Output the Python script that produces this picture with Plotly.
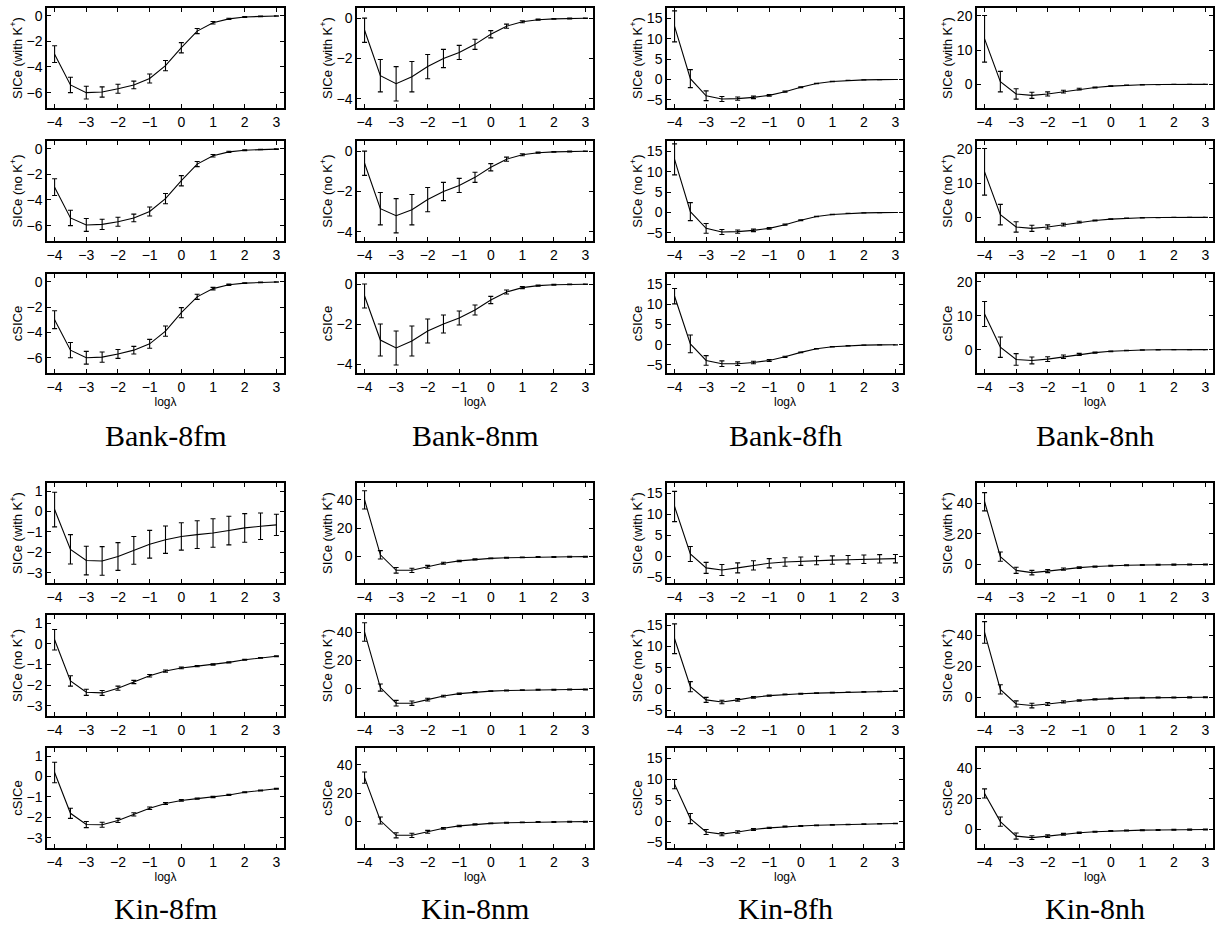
import plotly.graph_objects as go

LOG_LAMBDA = [-4, -3.5, -3, -2.5, -2, -1.5, -1, -0.5, 0, 0.5, 1, 1.5, 2, 2.5, 3]

DATASETS = ["Bank-8fm", "Bank-8nm", "Bank-8fh", "Bank-8nh", "Kin-8fm", "Kin-8nm", "Kin-8fh", "Kin-8nh"]
ROW_LABELS = ["SICe (with K<sup>+</sup>)", "SICe (no K<sup>+</sup>)", "cSICe"]

# ---- Bank-8fm
bank8fm_with = [-3.0, -5.4, -6.0, -5.95, -5.7, -5.4, -4.9, -3.9, -2.5, -1.2, -0.55, -0.25, -0.1, -0.05, -0.02]
bank8fm_with_err = [0.65, 0.6, 0.5, 0.4, 0.35, 0.3, 0.35, 0.4, 0.4, 0.2, 0.1, 0.05, 0.03, 0.02, 0.02]
bank8fm_no = [-3.0, -5.4, -5.95, -5.9, -5.7, -5.4, -4.9, -3.9, -2.5, -1.2, -0.55, -0.25, -0.12, -0.06, -0.03]
bank8fm_no_err = [0.65, 0.6, 0.5, 0.4, 0.35, 0.3, 0.35, 0.4, 0.4, 0.2, 0.1, 0.05, 0.03, 0.02, 0.02]
bank8fm_c = [-3.0, -5.4, -6.0, -5.95, -5.7, -5.4, -4.9, -3.9, -2.45, -1.2, -0.55, -0.25, -0.12, -0.06, -0.03]
bank8fm_c_err = [0.7, 0.6, 0.5, 0.4, 0.35, 0.3, 0.35, 0.4, 0.4, 0.2, 0.1, 0.05, 0.03, 0.02, 0.02]

# ---- Bank-8nm
bank8nm_with = [-0.6, -2.85, -3.25, -2.9, -2.4, -2.0, -1.7, -1.3, -0.8, -0.4, -0.18, -0.08, -0.04, -0.02, -0.01]
bank8nm_with_err = [0.6, 0.8, 0.85, 0.75, 0.6, 0.45, 0.35, 0.25, 0.18, 0.1, 0.05, 0.03, 0.02, 0.02, 0.01]
bank8nm_no = [-0.6, -2.85, -3.2, -2.9, -2.4, -2.0, -1.7, -1.3, -0.8, -0.4, -0.18, -0.08, -0.04, -0.02, -0.01]
bank8nm_no_err = [0.6, 0.8, 0.85, 0.75, 0.6, 0.45, 0.35, 0.25, 0.18, 0.1, 0.05, 0.03, 0.02, 0.02, 0.01]
bank8nm_c = [-0.6, -2.8, -3.2, -2.85, -2.35, -2.0, -1.7, -1.3, -0.8, -0.4, -0.18, -0.08, -0.04, -0.02, -0.01]
bank8nm_c_err = [0.6, 0.8, 0.85, 0.75, 0.6, 0.45, 0.35, 0.25, 0.18, 0.1, 0.05, 0.03, 0.02, 0.02, 0.01]

# ---- Bank-8fh
bank8fh_with = [13.0, 0.2, -4.0, -4.8, -4.7, -4.4, -3.9, -3.0, -1.9, -1.0, -0.5, -0.25, -0.1, -0.05, -0.02]
bank8fh_with_err = [3.8, 2.2, 1.2, 0.6, 0.4, 0.3, 0.2, 0.15, 0.1, 0.07, 0.05, 0.03, 0.02, 0.02, 0.01]
bank8fh_no = [13.0, 0.2, -3.9, -4.8, -4.7, -4.4, -3.9, -3.0, -1.9, -1.0, -0.5, -0.25, -0.1, -0.05, -0.02]
bank8fh_no_err = [3.8, 2.2, 1.2, 0.6, 0.4, 0.3, 0.2, 0.15, 0.1, 0.07, 0.05, 0.03, 0.02, 0.02, 0.01]
bank8fh_c = [12.0, 0.2, -3.9, -4.7, -4.7, -4.4, -3.9, -3.0, -1.9, -1.0, -0.5, -0.25, -0.1, -0.05, -0.02]
bank8fh_c_err = [1.9, 2.2, 1.2, 0.7, 0.45, 0.3, 0.25, 0.15, 0.1, 0.07, 0.05, 0.03, 0.02, 0.02, 0.01]

# ---- Bank-8nh
bank8nh_with = [13.3, 0.8, -2.8, -3.2, -2.8, -2.1, -1.4, -0.9, -0.5, -0.25, -0.1, -0.05, -0.03, -0.02, -0.01]
bank8nh_with_err = [6.8, 3.0, 1.5, 0.9, 0.6, 0.4, 0.25, 0.15, 0.1, 0.07, 0.05, 0.03, 0.02, 0.02, 0.01]
bank8nh_no = [13.3, 0.8, -2.8, -3.2, -2.8, -2.1, -1.4, -0.9, -0.5, -0.25, -0.1, -0.05, -0.03, -0.02, -0.01]
bank8nh_no_err = [6.8, 3.0, 1.5, 0.9, 0.6, 0.4, 0.25, 0.15, 0.1, 0.07, 0.05, 0.03, 0.02, 0.02, 0.01]
bank8nh_c = [10.5, 0.7, -2.9, -3.2, -2.8, -2.1, -1.4, -0.9, -0.5, -0.25, -0.1, -0.05, -0.03, -0.02, -0.01]
bank8nh_c_err = [3.7, 3.0, 1.7, 1.0, 0.7, 0.5, 0.3, 0.15, 0.1, 0.07, 0.05, 0.03, 0.02, 0.02, 0.01]

# ---- Kin-8fm
kin8fm_with = [0.1, -1.85, -2.4, -2.42, -2.2, -1.9, -1.6, -1.38, -1.22, -1.13, -1.05, -0.93, -0.8, -0.72, -0.65]
kin8fm_with_err = [0.85, 0.72, 0.7, 0.7, 0.68, 0.68, 0.68, 0.67, 0.67, 0.68, 0.7, 0.7, 0.7, 0.65, 0.52]
kin8fm_no = [0.2, -1.8, -2.35, -2.38, -2.15, -1.85, -1.55, -1.32, -1.17, -1.08, -1.0, -0.9, -0.77, -0.68, -0.6]
kin8fm_no_err = [0.5, 0.25, 0.15, 0.12, 0.1, 0.08, 0.06, 0.05, 0.04, 0.03, 0.03, 0.03, 0.02, 0.02, 0.02]
kin8fm_c = [0.2, -1.8, -2.35, -2.36, -2.15, -1.85, -1.55, -1.32, -1.17, -1.08, -1.0, -0.9, -0.77, -0.68, -0.6]
kin8fm_c_err = [0.5, 0.25, 0.15, 0.12, 0.1, 0.08, 0.06, 0.05, 0.04, 0.03, 0.03, 0.03, 0.02, 0.02, 0.02]

# ---- Kin-8nm
kin8nm_with = [40.0, 1.0, -10.0, -10.0, -7.5, -5.0, -3.3, -2.3, -1.5, -1.1, -0.8, -0.6, -0.5, -0.4, -0.3]
kin8nm_with_err = [6.5, 3.0, 2.0, 1.5, 1.0, 0.7, 0.5, 0.4, 0.3, 0.3, 0.3, 0.3, 0.3, 0.3, 0.3]
kin8nm_no = [40.0, 1.0, -10.0, -10.0, -7.5, -5.0, -3.3, -2.3, -1.5, -1.1, -0.8, -0.6, -0.5, -0.4, -0.3]
kin8nm_no_err = [6.5, 2.5, 2.0, 1.5, 1.0, 0.6, 0.5, 0.4, 0.3, 0.3, 0.3, 0.3, 0.3, 0.3, 0.3]
kin8nm_c = [31.0, 0.5, -10.0, -10.0, -7.5, -5.0, -3.3, -2.3, -1.5, -1.1, -0.8, -0.6, -0.5, -0.4, -0.3]
kin8nm_c_err = [4.0, 2.5, 1.8, 1.5, 1.0, 0.6, 0.5, 0.4, 0.3, 0.3, 0.3, 0.3, 0.3, 0.3, 0.3]

# ---- Kin-8fh
kin8fh_with = [11.8, 0.5, -2.8, -3.3, -2.8, -2.2, -1.7, -1.4, -1.2, -1.05, -0.95, -0.85, -0.75, -0.65, -0.6]
kin8fh_with_err = [3.6, 1.8, 1.3, 1.3, 1.2, 1.1, 1.1, 1.0, 1.0, 1.0, 1.0, 1.0, 1.0, 1.0, 1.0]
kin8fh_no = [11.8, 0.5, -2.6, -3.1, -2.6, -2.0, -1.6, -1.3, -1.15, -1.0, -0.9, -0.8, -0.72, -0.63, -0.58]
kin8fh_no_err = [3.5, 1.2, 0.6, 0.4, 0.3, 0.2, 0.15, 0.1, 0.1, 0.08, 0.08, 0.06, 0.06, 0.05, 0.05]
kin8fh_c = [8.8, 0.6, -2.6, -3.1, -2.6, -2.0, -1.6, -1.3, -1.15, -1.0, -0.9, -0.8, -0.72, -0.63, -0.58]
kin8fh_c_err = [1.1, 1.2, 0.6, 0.4, 0.3, 0.2, 0.15, 0.1, 0.1, 0.08, 0.08, 0.06, 0.06, 0.05, 0.05]

# ---- Kin-8nh
kin8nh_with = [41.0, 5.0, -4.0, -5.5, -4.5, -3.2, -2.2, -1.5, -1.0, -0.7, -0.5, -0.35, -0.25, -0.2, -0.15]
kin8nh_with_err = [6.0, 3.0, 2.0, 1.5, 1.0, 0.7, 0.5, 0.4, 0.3, 0.3, 0.3, 0.3, 0.3, 0.3, 0.3]
kin8nh_no = [42.0, 5.0, -4.5, -5.5, -4.5, -3.2, -2.2, -1.5, -1.0, -0.7, -0.5, -0.35, -0.25, -0.2, -0.15]
kin8nh_no_err = [7.0, 3.0, 2.0, 1.5, 1.0, 0.7, 0.5, 0.4, 0.3, 0.3, 0.3, 0.3, 0.3, 0.3, 0.3]
kin8nh_c = [23.5, 5.0, -4.5, -5.5, -4.5, -3.3, -2.3, -1.6, -1.1, -0.8, -0.6, -0.45, -0.35, -0.25, -0.2]
kin8nh_c_err = [3.0, 3.0, 2.0, 1.2, 0.8, 0.6, 0.4, 0.3, 0.3, 0.3, 0.3, 0.3, 0.3, 0.3, 0.3]

SERIES = {
    "Bank-8fm": [(bank8fm_with, bank8fm_with_err), (bank8fm_no, bank8fm_no_err), (bank8fm_c, bank8fm_c_err)],
    "Bank-8nm": [(bank8nm_with, bank8nm_with_err), (bank8nm_no, bank8nm_no_err), (bank8nm_c, bank8nm_c_err)],
    "Bank-8fh": [(bank8fh_with, bank8fh_with_err), (bank8fh_no, bank8fh_no_err), (bank8fh_c, bank8fh_c_err)],
    "Bank-8nh": [(bank8nh_with, bank8nh_with_err), (bank8nh_no, bank8nh_no_err), (bank8nh_c, bank8nh_c_err)],
    "Kin-8fm": [(kin8fm_with, kin8fm_with_err), (kin8fm_no, kin8fm_no_err), (kin8fm_c, kin8fm_c_err)],
    "Kin-8nm": [(kin8nm_with, kin8nm_with_err), (kin8nm_no, kin8nm_no_err), (kin8nm_c, kin8nm_c_err)],
    "Kin-8fh": [(kin8fh_with, kin8fh_with_err), (kin8fh_no, kin8fh_no_err), (kin8fh_c, kin8fh_c_err)],
    "Kin-8nh": [(kin8nh_with, kin8nh_with_err), (kin8nh_no, kin8nh_no_err), (kin8nh_c, kin8nh_c_err)],
}

# axis settings per dataset
Y_RANGES = {
    "Bank-8fm": [-7.2, 0.6], "Bank-8nm": [-4.45, 0.5], "Bank-8fh": [-7.0, 17.5], "Bank-8nh": [-6.9, 22.3],
    "Kin-8fm": [-3.5, 1.4], "Kin-8nm": [-19.0, 52.0], "Kin-8fh": [-6.4, 17.4], "Kin-8nh": [-12.3, 53.3],
}
Y_DTICK = {
    "Bank-8fm": 2, "Bank-8nm": 2, "Bank-8fh": 5, "Bank-8nh": 10,
    "Kin-8fm": 1, "Kin-8nm": 20, "Kin-8fh": 5, "Kin-8nh": 20,
}

# the page body margin is removed by a post script, so the figure fills the window
W, H = 1216, 925
COL_X = [(47, 284), (357, 593), (667, 903), (977, 1213)]
BLOCK_ROWS = [[(8, 108), (141, 241), (274, 373)], [(483, 583), (615, 716), (748, 848)]]
TITLE_Y = [435, 908]
X_RANGE = [-4.24, 3.24]


def px_x(v):
    return v / W


def px_y(v):
    return 1 - v / H


FONT = "Liberation Sans, Arial, sans-serif"
fig = go.Figure()
layout = {}
annotations = []
n = 0
for b in range(2):
    for c in range(4):
        ds = DATASETS[b * 4 + c]
        x0, x1 = COL_X[c]
        for r in range(3):
            n += 1
            t, bt = BLOCK_ROWS[b][r]
            mean, err = SERIES[ds][r]
            xa = "x" if n == 1 else f"x{n}"
            ya = "y" if n == 1 else f"y{n}"
            fig.add_trace(go.Scatter(
                x=LOG_LAMBDA, y=mean, mode="lines", xaxis=xa, yaxis=ya,
                line=dict(color="black", width=1.1), showlegend=False, hoverinfo="skip",
                error_y=dict(type="data", array=err, visible=True, color="black", thickness=1.1, width=2.5),
            ))
            key = "" if n == 1 else str(n)
            xaxis = dict(
                domain=[px_x(x0), px_x(x1)], anchor=ya, range=X_RANGE,
                tickmode="linear", tick0=0, dtick=1, ticks="inside", ticklen=4,
                tickcolor="black", showline=True, linecolor="black", linewidth=1.5,
                mirror="allticks", showgrid=False, zeroline=False,
                tickfont=dict(family=FONT, size=14, color="black"),
                ticklabeloverflow="allow", automargin=False,
            )
            if r == 2:
                xaxis["title"] = dict(text="logλ", font=dict(family=FONT, size=12, color="black"), standoff=0)
            layout["xaxis" + key] = xaxis
            layout["yaxis" + key] = dict(
                domain=[px_y(bt), px_y(t)], anchor=xa, range=Y_RANGES[ds],
                tickmode="linear", tick0=0, dtick=Y_DTICK[ds], ticks="inside", ticklen=4,
                tickcolor="black", showline=True, linecolor="black", linewidth=1.5,
                mirror="allticks", showgrid=False, zeroline=False,
                tickfont=dict(family=FONT, size=14, color="black"),
                ticklabeloverflow="allow", automargin=False,
                title=dict(text=ROW_LABELS[r], font=dict(family=FONT, size=13, color="black"), standoff=1),
            )
        annotations.append(dict(
            text=ds, x=px_x((x0 + x1) / 2), y=px_y(TITLE_Y[b]), xref="paper", yref="paper",
            showarrow=False, xanchor="center", yanchor="middle",
            font=dict(family="Liberation Serif, DejaVu Serif, serif", size=30, color="black"),
        ))

fig.update_layout(
    width=W, height=H, margin=dict(l=0, r=0, t=0, b=0),
    paper_bgcolor="white", plot_bgcolor="white",
    annotations=annotations, **layout,
)
fig.write_html(
    "out.html",
    config={"displayModeBar": False},
    post_script="document.body.style.margin='0px';document.body.style.overflow='hidden';",
)
